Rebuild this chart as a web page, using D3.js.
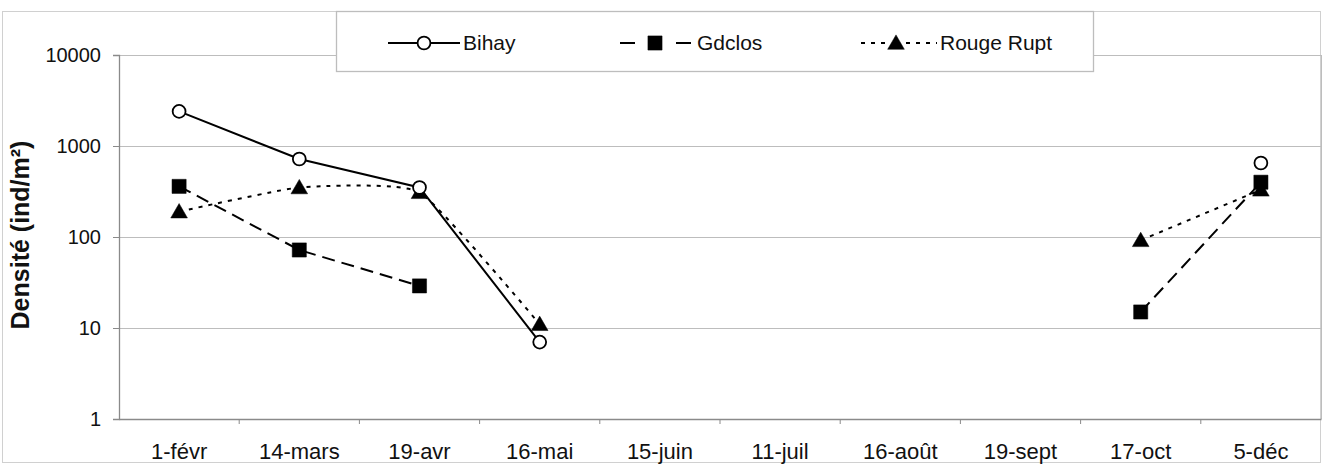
<!DOCTYPE html>
<html><head><meta charset="utf-8">
<script src="https://cdn.jsdelivr.net/npm/d3@7"></script>
<style>body{margin:0;background:#fff}svg{display:block;font-family:Arial,"Liberation Sans",sans-serif}</style>
</head><body><svg id="c" width="1324" height="466"></svg>
<script>
const categories = ["1-févr","14-mars","19-avr","16-mai","15-juin","11-juil","16-août","19-sept","17-oct","5-déc"];
const bihay  = [2400, 720, 350, 7, null, null, null, null, null, 650];
const gdclos = [360, 72, 29, null, null, null, null, null, 15, 400];
const rouge  = [190, 350, 310, 11, null, null, null, null, 92, 330];
const yTicks = [1, 10, 100, 1000, 10000];
const seriesNames = ["Bihay", "Gdclos", "Rouge Rupt"];

const svg = d3.select("#c");
const L = 119, R = 1321, T = 55, B = 419;
const x = d3.scaleBand().domain(categories).range([L, R]);
const y = d3.scaleLog().domain([1, 10000]).range([B, T]);
const cx = c => x(c) + x.bandwidth() / 2;

// outer frame
svg.append("rect").attr("x", 2.5).attr("y", 11.5).attr("width", 1318).attr("height", 451)
  .attr("fill", "none").attr("stroke", "#d0d0d0");

// gridlines
svg.append("g").selectAll("line").data(yTicks.filter(d => d > 1)).join("line")
  .attr("x1", L).attr("x2", R).attr("y1", d => Math.round(y(d)) + 0.5).attr("y2", d => Math.round(y(d)) + 0.5)
  .attr("stroke", "#bdbdbd").attr("stroke-width", 1.2);
svg.append("line").attr("x1", R + 0.5).attr("x2", R + 0.5).attr("y1", T).attr("y2", B).attr("stroke", "#bdbdbd");

// y axis
const ya = svg.append("g").attr("transform", `translate(${L},0)`)
  .call(d3.axisLeft(y).tickValues(yTicks).tickFormat(d3.format("d")).tickSize(6).tickPadding(12));
ya.select(".domain").attr("stroke", "#8a8a8a").attr("stroke-width", 1.3);
ya.selectAll(".tick line").attr("stroke", "#8a8a8a");
ya.selectAll("text").attr("font-size", 20).attr("fill", "#111").attr("font-family", "Arial, 'Liberation Sans', sans-serif");

// x axis
const xa = svg.append("g").attr("transform", `translate(0,${B})`)
  .call(d3.axisBottom(x).tickSize(0).tickPadding(24));
xa.select(".domain").attr("stroke", "#8a8a8a").attr("stroke-width", 1.3);
xa.selectAll("text").attr("font-size", 22).attr("fill", "#111").attr("font-family", "Arial, 'Liberation Sans', sans-serif");
xa.append("g").selectAll("line").data(categories.slice(1)).join("line")
  .attr("x1", d => x(d)).attr("x2", d => x(d)).attr("y1", 0).attr("y2", 5)
  .attr("stroke", "#8a8a8a");

// y title
svg.append("text").attr("transform", `translate(29,235) rotate(-90)`)
  .attr("text-anchor", "middle").attr("font-size", 25).attr("font-weight", "bold")
  .attr("fill", "#111").text("Densité (ind/m²)");

// series
const defs = [
  {name: seriesNames[0], vals: bihay, dash: null, marker: "circle", curve: d3.curveLinear},
  {name: seriesNames[1], vals: gdclos, dash: "13,7", marker: "square", curve: d3.curveLinear},
  {name: seriesNames[2], vals: rouge, dash: "4,6", marker: "triangle", curve: d3.curveCardinal.tension(0.55)}
];
const symbolFor = m => m === "circle" ? d3.symbolCircle : m === "square" ? d3.symbolSquare : d3.symbolTriangle;
const sizeFor = m => m === "circle" ? 130 : m === "square" ? 200 : 120;

function drawMarker(g, m, px, py) {
  g.append("path").attr("d", d3.symbol().type(symbolFor(m)).size(sizeFor(m)))
    .attr("transform", `translate(${px},${py + (m === "triangle" ? 1.5 : 0)})`)
    .attr("fill", m === "circle" ? "#fff" : "#000")
    .attr("stroke", "#000").attr("stroke-width", m === "circle" ? 1.8 : 0.5);
}

defs.forEach(s => {
  const pts = categories.map((c, i) => ({c, v: s.vals[i]}));
  const line = d3.line().defined(d => d.v != null).x(d => cx(d.c)).y(d => y(d.v)).curve(s.curve);
  svg.append("path").datum(pts).attr("d", line).attr("fill", "none")
    .attr("stroke", "#000").attr("stroke-width", 2)
    .attr("stroke-dasharray", s.dash);
});
[defs[1], defs[2], defs[0]].forEach(s => {
  const g = svg.append("g");
  categories.forEach((c, i) => { if (s.vals[i] != null) drawMarker(g, s.marker, cx(c), y(s.vals[i])); });
});

// legend
const lg = svg.append("g");
lg.append("rect").attr("x", 336.5).attr("y", 11.5).attr("width", 757).attr("height", 60)
  .attr("fill", "#fff").attr("stroke", "#bdbdbd").attr("stroke-width", 1.3);
const ly = 43;
function seg(x0, x1, dash) {
  lg.append("line").attr("x1", x0).attr("x2", x1).attr("y1", ly).attr("y2", ly)
    .attr("stroke", "#000").attr("stroke-width", 2).attr("stroke-dasharray", dash);
}
// Bihay
seg(388, 460, null);
drawMarker(lg, "circle", 424, ly);
// Gdclos
seg(620, 635, null); seg(676, 691, null);
drawMarker(lg, "square", 655, ly);
// Rouge Rupt
seg(861, 886, "4,6"); seg(906, 937, "4,6");
drawMarker(lg, "triangle", 896, ly);
[["Bihay", 463], ["Gdclos", 697], ["Rouge Rupt", 940]].forEach(([t, tx], i) => {
  lg.append("text").attr("x", tx).attr("y", ly).attr("dy", "0.35em")
    .attr("font-size", 21).attr("fill", "#111").text(seriesNames[i]);
});
</script></body></html>
